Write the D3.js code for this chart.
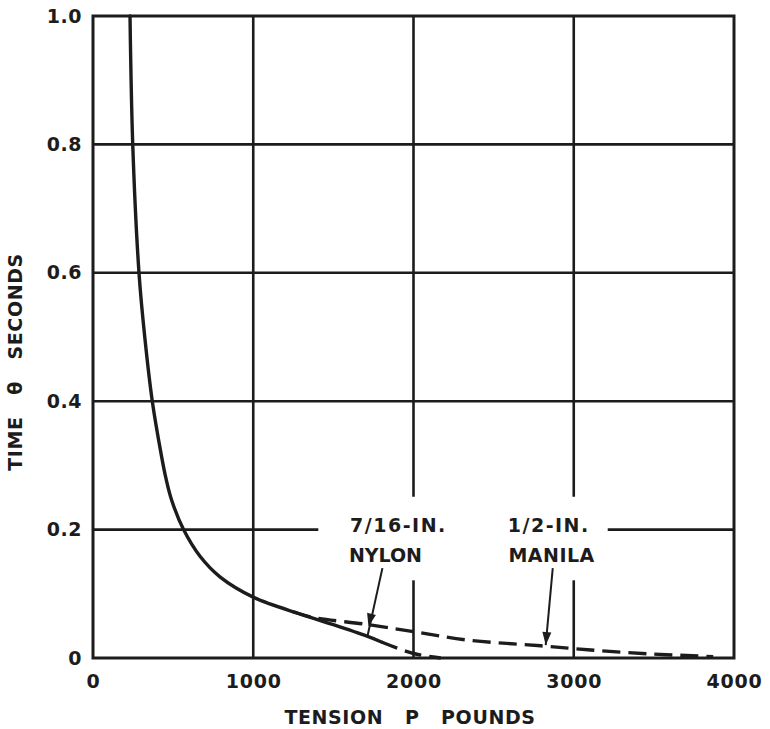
<!DOCTYPE html>
<html><head><meta charset="utf-8">
<script src="https://cdn.jsdelivr.net/npm/d3@7"></script>
<style>
html,body{margin:0;padding:0;background:#fff;}
text{font-family:"DejaVu Sans",sans-serif;font-weight:bold;fill:#1c1c1c;}
</style></head>
<body>
<svg id="c" width="770" height="729"></svg>
<script>
// ---- data ----
const xTicks = [0, 1000, 2000, 3000, 4000];
const yTicks = [0, 0.2, 0.4, 0.6, 0.8, 1.0];
const yTickLabels = ["0", "0.2", "0.4", "0.6", "0.8", "1.0"];
const xGrid = [1000, 2000, 3000];
const yGrid = [0.2, 0.4, 0.6, 0.8];
// common solid curve (tension P, time theta)
const solidP = [231, 248, 287, 323, 370, 425, 455, 492, 565, 669, 794, 1006, 1300, 1500, 1710, 1800];
const solidT = [1.0, 0.8, 0.6, 0.5, 0.4, 0.318, 0.28, 0.245, 0.2, 0.158, 0.126, 0.094, 0.068, 0.052, 0.034, 0.025];
// 7/16-in nylon dashed continuation
const nylonP = [1800, 2000, 2170];
const nylonT = [0.025, 0.007, 0.0];
// 1/2-in manila dashed branch
const manilaP = [1250, 1356, 1719, 2000, 2335, 2794, 3106, 3500, 3794, 3870];
const manilaT = [0.072, 0.064, 0.052, 0.041, 0.028, 0.019, 0.0125, 0.006, 0.003, 0.002];
// labels
const labelLines = [
  {text: "7/16-IN.", p: 1906, t: 0.196, ls: 1.5},
  {text: "NYLON", p: 1825, t: 0.150, ls: 0},
  {text: "1/2-IN.", p: 2844, t: 0.196, ls: 1.5},
  {text: "MANILA", p: 2862, t: 0.150, ls: 0.5}
];
const arrows = [
  {from: [1806, 0.140], tip: [1719, 0.049], to: [1712, 0.033]},
  {from: [2869, 0.140], tip: [2825, 0.020], to: [2825, 0.020]}
];
// breaks in grid lines around labels
const hGridBreak = {y: 0.2, from: 1406, to: 3212};
const vGridBreak = {xs: [2000, 3000], from: 0.121, to: 0.251};

// ---- chart ----
const svg = d3.select("#c");
const ink = "#1c1c1c";
const x = d3.scaleLinear().domain([0, 4000]).range([93, 734]);
const y = d3.scaleLinear().domain([0, 1.0]).range([658, 16]);

const g = svg.append("g");
yGrid.forEach(v => {
  if (v === hGridBreak.y) {
    g.append("line").attr("x1", x(0)).attr("x2", x(hGridBreak.from)).attr("y1", y(v)).attr("y2", y(v));
    g.append("line").attr("x1", x(hGridBreak.to)).attr("x2", x(4000)).attr("y1", y(v)).attr("y2", y(v));
  } else {
    g.append("line").attr("x1", x(0)).attr("x2", x(4000)).attr("y1", y(v)).attr("y2", y(v));
  }
});
xGrid.forEach(v => {
  if (vGridBreak.xs.includes(v)) {
    g.append("line").attr("x1", x(v)).attr("x2", x(v)).attr("y1", y(1)).attr("y2", y(vGridBreak.to));
    g.append("line").attr("x1", x(v)).attr("x2", x(v)).attr("y1", y(vGridBreak.from)).attr("y2", y(0));
  } else {
    g.append("line").attr("x1", x(v)).attr("x2", x(v)).attr("y1", y(1)).attr("y2", y(0));
  }
});
g.selectAll("line").attr("stroke", ink).attr("stroke-width", 2.6);

svg.append("rect").attr("x", x(0)).attr("y", y(1)).attr("width", x(4000) - x(0)).attr("height", y(0) - y(1))
  .attr("fill", "none").attr("stroke", ink).attr("stroke-width", 3);

const xAxis = d3.axisBottom(x).tickValues(xTicks).tickSize(0).tickPadding(17).tickFormat(d3.format("d"));
const ax = svg.append("g").attr("transform", `translate(0,${y(0)})`).call(xAxis);
ax.select(".domain").remove();
ax.selectAll("text").style("font-size", "19px").style("letter-spacing", "0.8px").attr("fill", ink)
  .style("font-family", '"DejaVu Sans",sans-serif');

const yAxis = d3.axisLeft(y).tickValues(yTicks).tickSize(0).tickPadding(11)
  .tickFormat((d, i) => yTickLabels[i]);
const ay = svg.append("g").attr("transform", `translate(${x(0)},0)`).call(yAxis);
ay.select(".domain").remove();
ay.selectAll("text").style("font-size", "19px").style("letter-spacing", "0.5px").attr("fill", ink)
  .style("font-family", '"DejaVu Sans",sans-serif');

svg.append("text").attr("x", 410).attr("y", 724).attr("text-anchor", "middle")
  .style("font-size", "19px").style("letter-spacing", "0.6px").style("white-space", "pre")
  .text("TENSION   P   POUNDS");
svg.append("text").attr("transform", "translate(22,362) rotate(-90)").attr("text-anchor", "middle")
  .style("font-size", "19px").style("letter-spacing", "0.6px").style("white-space", "pre")
  .text("TIME   θ   SECONDS");

const line = d3.line().x(d => x(d[0])).y(d => y(d[1])).curve(d3.curveCatmullRom.alpha(0.5));
const zip = (a, b) => a.map((v, i) => [v, b[i]]);
svg.append("path").attr("d", line(zip(solidP, solidT))).attr("fill", "none")
  .attr("stroke", ink).attr("stroke-width", 3.4).attr("stroke-linecap", "round");
svg.append("path").attr("d", line(zip(nylonP, nylonT))).attr("fill", "none")
  .attr("stroke", ink).attr("stroke-width", 3.4).attr("stroke-dasharray", "17,8");
svg.append("path").attr("d", line(zip(manilaP, manilaT))).attr("fill", "none")
  .attr("stroke", ink).attr("stroke-width", 3.4).attr("stroke-dasharray", "18,8");

labelLines.forEach(l => {
  svg.append("text").attr("x", x(l.p)).attr("y", y(l.t)).attr("text-anchor", "middle")
    .style("font-size", "19px").style("letter-spacing", l.ls + "px").text(l.text);
});

arrows.forEach(a => {
  const fx = x(a.from[0]), fy = y(a.from[1]);
  const tx = x(a.tip[0]), ty = y(a.tip[1]);
  const ex = x(a.to[0]), ey = y(a.to[1]);
  svg.append("line").attr("x1", fx).attr("y1", fy).attr("x2", ex).attr("y2", ey)
    .attr("stroke", ink).attr("stroke-width", 2);
  const ang = Math.atan2(ty - fy, tx - fx);
  const L = 13, W = 4.5;
  const bx = tx - L * Math.cos(ang), by = ty - L * Math.sin(ang);
  const px = -Math.sin(ang) * W, py = Math.cos(ang) * W;
  svg.append("path").attr("d", `M${tx},${ty}L${bx + px},${by + py}L${bx - px},${by - py}Z`).attr("fill", ink);
});
</script>
</body></html>
